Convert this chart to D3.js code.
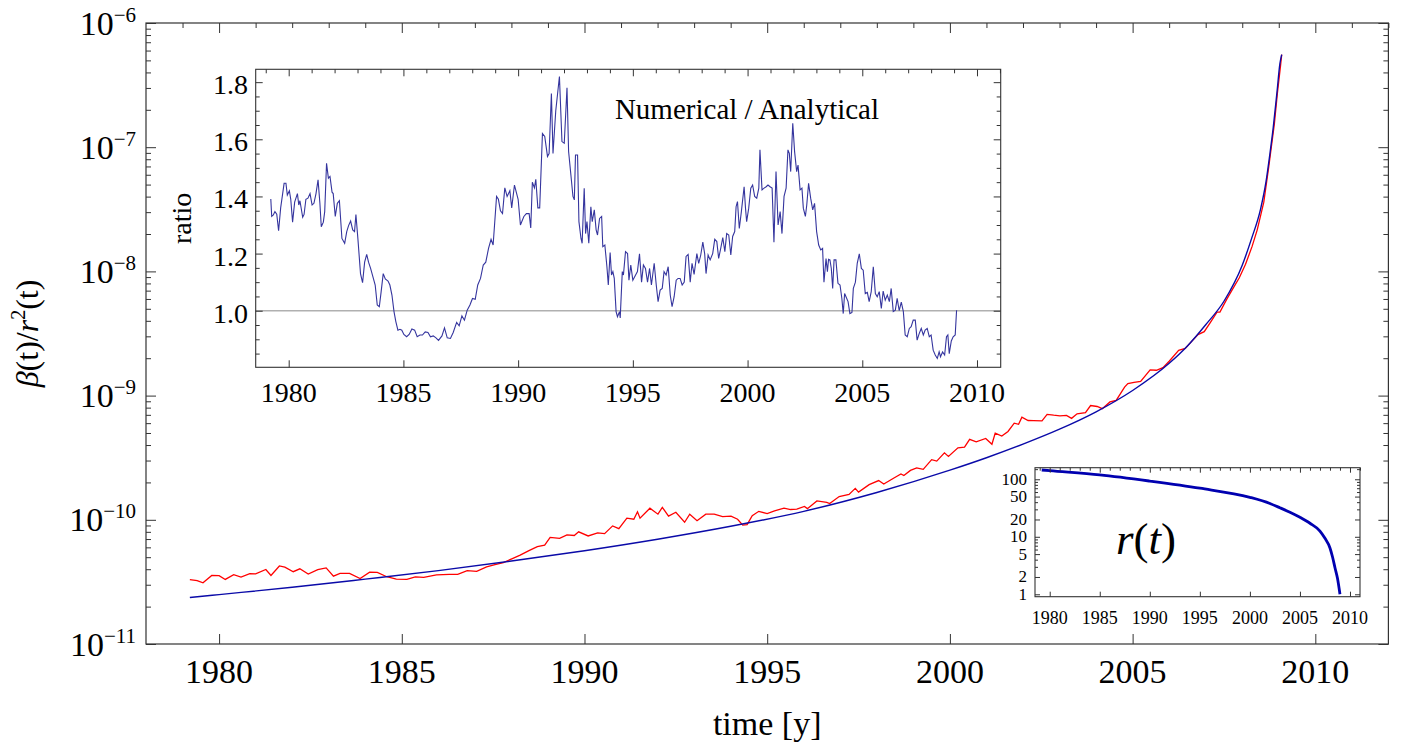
<!DOCTYPE html>
<html>
<head>
<meta charset="utf-8">
<script src="https://cdn.jsdelivr.net/npm/d3@7"></script>
<style>
body { margin: 0; background: #fff; }
text { font-family: "Liberation Serif", "Times New Roman", serif; fill: #000; }
</style>
</head>
<body>
<div id="chart-area"></div>
<script>
// Analytical curve beta(t)/r^2(t) (blue)
var analyticYears = [1979.2, 1980, 1982, 1984, 1986, 1988, 1990, 1992, 1994, 1996, 1998, 2000, 2001, 2002, 2003, 2004,
    2005, 2006, 2006.5, 2007, 2007.5, 2008, 2008.25, 2008.5, 2008.65, 2008.75, 2008.85, 2008.95, 2009.03, 2009.08];
var analyticValues = [2.37e-11, 2.50e-11, 2.86e-11, 3.33e-11, 3.90e-11, 4.66e-11, 5.64e-11, 6.98e-11, 8.87e-11, 1.17e-10,
    1.66e-10, 2.51e-10, 3.16e-10, 4.07e-10, 5.37e-10, 7.41e-10, 1.10e-9, 1.82e-9, 2.51e-9, 3.72e-9, 5.75e-9, 1.12e-8,
    1.82e-8, 3.16e-8, 5.25e-8, 8.51e-8, 1.45e-7, 2.75e-7, 4.68e-7, 5.56e-7];

// Numerical curve (red)
var numericYears = [1979.2, 1979.4, 1979.56, 1979.8, 1980.0, 1980.17, 1980.4, 1980.6, 1980.84, 1981.0, 1981.28, 1981.42,
    1981.65, 1981.8, 1982.03, 1982.21, 1982.44, 1982.7, 1982.93, 1983.13, 1983.31, 1983.57, 1983.86, 1984.12, 1984.33,
    1984.59, 1984.85, 1985.14, 1985.37, 1985.6, 1985.95, 1986.3, 1986.53, 1986.79, 1987.05, 1987.32, 1987.55, 1987.78,
    1988.01, 1988.24, 1988.48, 1988.71, 1988.91, 1989.06, 1989.32, 1989.52, 1989.72, 1989.84, 1990.1, 1990.36, 1990.55,
    1990.77, 1990.94, 1991.16, 1991.35, 1991.45, 1991.52, 1991.79, 1992.01, 1992.13, 1992.3, 1992.5, 1992.74, 1992.88,
    1993.08, 1993.32, 1993.55, 1993.78, 1994.01, 1994.19, 1994.33, 1994.45, 1994.59, 1994.77, 1995.0, 1995.2, 1995.46,
    1995.64, 1995.81, 1996.02, 1996.1, 1996.36, 1996.63, 1996.71, 1996.97, 1997.24, 1997.41, 1997.5, 1997.79, 1998.05,
    1998.19, 1998.48, 1998.66, 1998.74, 1998.92, 1999.09, 1999.27, 1999.5, 1999.64, 1999.85, 1999.96, 2000.22, 2000.4,
    2000.54, 2000.72, 2000.98, 2001.15, 2001.24, 2001.42, 2001.59, 2001.76, 2001.88, 2001.97, 2002.14, 2002.29, 2002.52,
    2002.66, 2002.84, 2003.01, 2003.19, 2003.33, 2003.48, 2003.71, 2003.85, 2004.03, 2004.17, 2004.38, 2004.55, 2004.78,
    2004.87, 2005.04, 2005.22, 2005.48, 2005.65, 2005.83, 2006.0, 2006.26, 2006.44, 2006.61, 2006.79, 2006.96, 2007.13,
    2007.31, 2007.39, 2007.57, 2007.74, 2007.92, 2008.09, 2008.27, 2008.41, 2008.59, 2008.73, 2008.88, 2008.96, 2009.05,
    2009.08];
var numericValues = [3.30e-11, 3.24e-11, 3.11e-11, 3.56e-11, 3.55e-11, 3.31e-11, 3.62e-11, 3.46e-11, 3.69e-11, 3.67e-11,
    3.98e-11, 3.56e-11, 4.25e-11, 4.15e-11, 3.82e-11, 4.03e-11, 3.66e-11, 3.97e-11, 4.10e-11, 3.52e-11, 3.70e-11, 3.70e-11,
    3.37e-11, 3.79e-11, 3.77e-11, 3.48e-11, 3.33e-11, 3.31e-11, 3.47e-11, 3.44e-11, 3.60e-11, 3.64e-11, 3.64e-11, 3.90e-11,
    3.84e-11, 4.17e-11, 4.36e-11, 4.53e-11, 4.85e-11, 5.19e-11, 5.65e-11, 6.07e-11, 6.25e-11, 7.21e-11, 7.08e-11, 7.55e-11,
    7.48e-11, 8.00e-11, 7.41e-11, 7.85e-11, 7.73e-11, 8.93e-11, 8.49e-11, 1.03e-10, 1.01e-10, 1.16e-10, 1.03e-10, 1.24e-10,
    1.11e-10, 1.26e-10, 1.07e-10, 1.15e-10, 9.55e-11, 1.11e-10, 9.82e-11, 1.11e-10, 1.11e-10, 1.06e-10, 1.07e-10, 1.01e-10,
    9.06e-11, 9.16e-11, 1.08e-10, 1.17e-10, 1.12e-10, 1.18e-10, 1.24e-10, 1.21e-10, 1.22e-10, 1.28e-10, 1.23e-10, 1.42e-10,
    1.38e-10, 1.35e-10, 1.54e-10, 1.60e-10, 1.79e-10, 1.67e-10, 1.92e-10, 2.07e-10, 1.94e-10, 2.18e-10, 2.34e-10, 2.27e-10,
    2.50e-10, 2.62e-10, 2.55e-10, 3.05e-10, 2.97e-10, 3.46e-10, 3.24e-10, 3.80e-10, 3.84e-10, 4.45e-10, 4.24e-10, 4.52e-10,
    4.06e-10, 4.99e-10, 4.73e-10, 5.14e-10, 6.00e-10, 5.87e-10, 6.70e-10, 6.30e-10, 6.28e-10, 6.25e-10, 7.06e-10, 6.95e-10,
    6.87e-10, 6.92e-10, 6.56e-10, 7.13e-10, 7.28e-10, 8.32e-10, 8.17e-10, 7.85e-10, 8.89e-10, 9.14e-10, 1.17e-9, 1.25e-9,
    1.28e-9, 1.30e-9, 1.61e-9, 1.60e-9, 1.68e-9, 1.89e-9, 2.31e-9, 2.40e-9, 2.72e-9, 3.10e-9, 3.27e-9, 3.89e-9, 4.70e-9,
    4.71e-9, 5.92e-9, 7.23e-9, 8.89e-9, 1.14e-8, 1.59e-8, 2.16e-8, 3.61e-8, 7.10e-8, 1.55e-7, 2.69e-7, 4.58e-7, 5.56e-7];

// Ratio numerical / analytical (inset)
var ratioYears = [1979.22, 1979.26, 1979.33, 1979.40, 1979.48, 1979.56, 1979.65, 1979.80, 1979.88, 1979.94, 1980.03,
    1980.09, 1980.17, 1980.26, 1980.38, 1980.44, 1980.49, 1980.61, 1980.67, 1980.75, 1980.84, 1980.93, 1981.02, 1981.10,
    1981.19, 1981.28, 1981.36, 1981.42, 1981.51, 1981.57, 1981.65, 1981.73, 1981.80, 1981.89, 1981.94, 1982.03, 1982.12,
    1982.21, 1982.32, 1982.44, 1982.53, 1982.61, 1982.70, 1982.79, 1982.87, 1982.93, 1983.02, 1983.13, 1983.22, 1983.31,
    1983.40, 1983.48, 1983.57, 1983.69, 1983.77, 1983.86, 1983.95, 1984.03, 1984.12, 1984.21, 1984.33, 1984.41, 1984.50,
    1984.59, 1984.67, 1984.76, 1984.85, 1984.93, 1985.02, 1985.14, 1985.25, 1985.37, 1985.49, 1985.60, 1985.72, 1985.83,
    1985.95, 1986.07, 1986.18, 1986.30, 1986.42, 1986.53, 1986.68, 1986.79, 1986.91, 1987.05, 1987.17, 1987.32, 1987.43,
    1987.55, 1987.66, 1987.78, 1987.90, 1988.01, 1988.13, 1988.24, 1988.36, 1988.48, 1988.59, 1988.71, 1988.82, 1988.91,
    1989.06, 1989.14, 1989.23, 1989.32, 1989.42, 1989.52, 1989.64, 1989.72, 1989.84, 1990.00, 1990.10, 1990.25, 1990.36,
    1990.48, 1990.55, 1990.62, 1990.71, 1990.77, 1990.86, 1990.94, 1991.06, 1991.16, 1991.28, 1991.35, 1991.45, 1991.52,
    1991.64, 1991.80, 1991.91, 1992.01, 1992.13, 1992.20, 1992.30, 1992.39, 1992.45, 1992.50, 1992.59, 1992.65, 1992.74,
    1992.79, 1992.88, 1992.94, 1993.00, 1993.08, 1993.17, 1993.23, 1993.32, 1993.40, 1993.46, 1993.55, 1993.64, 1993.69,
    1993.78, 1993.87, 1993.93, 1994.01, 1994.07, 1994.13, 1994.19, 1994.27, 1994.33, 1994.42, 1994.45, 1994.54, 1994.59,
    1994.68, 1994.77, 1994.83, 1994.91, 1995.00, 1995.12, 1995.20, 1995.29, 1995.38, 1995.46, 1995.55, 1995.64, 1995.73,
    1995.81, 1995.93, 1996.02, 1996.10, 1996.19, 1996.28, 1996.36, 1996.45, 1996.54, 1996.63, 1996.71, 1996.80, 1996.89,
    1996.97, 1997.06, 1997.15, 1997.24, 1997.32, 1997.41, 1997.50, 1997.58, 1997.67, 1997.79, 1997.87, 1997.96, 1998.05,
    1998.13, 1998.19, 1998.28, 1998.37, 1998.48, 1998.57, 1998.66, 1998.74, 1998.83, 1998.92, 1999.01, 1999.09, 1999.18,
    1999.27, 1999.35, 1999.44, 1999.50, 1999.56, 1999.64, 1999.73, 1999.85, 1999.91, 1999.96, 2000.05, 2000.14, 2000.22,
    2000.31, 2000.40, 2000.49, 2000.54, 2000.63, 2000.72, 2000.81, 2000.89, 2000.98, 2001.07, 2001.15, 2001.24, 2001.33,
    2001.42, 2001.50, 2001.59, 2001.68, 2001.76, 2001.82, 2001.88, 2001.97, 2002.05, 2002.14, 2002.20, 2002.29, 2002.37,
    2002.43, 2002.52, 2002.58, 2002.66, 2002.75, 2002.84, 2002.92, 2003.01, 2003.10, 2003.19, 2003.27, 2003.33, 2003.42,
    2003.48, 2003.53, 2003.59, 2003.65, 2003.71, 2003.77, 2003.85, 2003.94, 2004.03, 2004.11, 2004.17, 2004.23, 2004.29,
    2004.38, 2004.46, 2004.55, 2004.61, 2004.70, 2004.78, 2004.87, 2004.96, 2005.04, 2005.13, 2005.22, 2005.30, 2005.39,
    2005.48, 2005.57, 2005.65, 2005.74, 2005.83, 2005.91, 2006.00, 2006.09, 2006.18, 2006.26, 2006.35, 2006.44, 2006.52,
    2006.61, 2006.70, 2006.79, 2006.87, 2006.96, 2007.05, 2007.13, 2007.22, 2007.31, 2007.39, 2007.48, 2007.57, 2007.66,
    2007.74, 2007.83, 2007.92, 2008.00, 2008.09, 2008.18, 2008.27, 2008.35, 2008.41, 2008.50, 2008.59, 2008.67, 2008.73,
    2008.79, 2008.88, 2008.96, 2009.05, 2009.11];
var ratioValues = [1.391, 1.33, 1.335, 1.347, 1.338, 1.28, 1.36, 1.446, 1.446, 1.405, 1.42, 1.39, 1.31, 1.38, 1.41, 1.37,
    1.385, 1.327, 1.337, 1.39, 1.394, 1.41, 1.37, 1.376, 1.41, 1.458, 1.376, 1.294, 1.31, 1.347, 1.516, 1.464, 1.47, 1.415,
    1.41, 1.33, 1.376, 1.385, 1.253, 1.236, 1.277, 1.298, 1.314, 1.283, 1.277, 1.337, 1.248, 1.13, 1.098, 1.17, 1.197, 1.17,
    1.148, 1.113, 1.09, 1.02, 1.014, 1.067, 1.13, 1.111, 1.104, 1.09, 1.055, 0.997, 0.962, 0.932, 0.935, 0.932, 0.917, 0.909,
    0.917, 0.936, 0.932, 0.909, 0.915, 0.915, 0.926, 0.924, 0.909, 0.912, 0.905, 0.896, 0.912, 0.94, 0.905, 0.903, 0.924,
    0.959, 0.947, 0.982, 0.967, 1.002, 1.02, 1.043, 1.04, 1.09, 1.113, 1.16, 1.17, 1.218, 1.25, 1.23, 1.40, 1.39, 1.35,
    1.34, 1.43, 1.40, 1.42, 1.36, 1.44, 1.39, 1.30, 1.33, 1.34, 1.34, 1.29, 1.45, 1.43, 1.46, 1.36, 1.36, 1.62, 1.61, 1.54,
    1.55, 1.76, 1.55, 1.70, 1.82, 1.592, 1.586, 1.78, 1.557, 1.475, 1.40, 1.388, 1.545, 1.545, 1.312, 1.253, 1.236, 1.429,
    1.27, 1.312, 1.236, 1.364, 1.312, 1.353, 1.283, 1.265, 1.323, 1.33, 1.224, 1.23, 1.154, 1.09, 1.204, 1.125, 1.137,
    1.113, 0.997, 0.979, 0.997, 0.975, 1.137, 1.125, 1.207, 1.20, 1.107, 1.16, 1.107, 1.125, 1.137, 1.199, 1.10, 1.16,
    1.148, 1.10, 1.148, 1.09, 1.166, 1.09, 1.032, 1.072, 1.078, 1.137, 1.125, 1.154, 1.055, 1.014, 1.049, 1.107, 1.113,
    1.113, 1.09, 1.10, 1.19, 1.197, 1.10, 1.166, 1.127, 1.20, 1.166, 1.195, 1.24, 1.20, 1.13, 1.195, 1.178, 1.20, 1.25,
    1.242, 1.183, 1.218, 1.256, 1.207, 1.27, 1.265, 1.195, 1.26, 1.277, 1.364, 1.382, 1.288, 1.347, 1.434, 1.359, 1.312,
    1.359, 1.429, 1.44, 1.40, 1.394, 1.429, 1.563, 1.423, 1.429, 1.434, 1.44, 1.434, 1.429, 1.24, 1.487, 1.30, 1.347, 1.27,
    1.40, 1.429, 1.563, 1.551, 1.487, 1.656, 1.557, 1.487, 1.51, 1.423, 1.429, 1.359, 1.33, 1.37, 1.446, 1.394, 1.353,
    1.376, 1.277, 1.23, 1.213, 1.218, 1.10, 1.183, 1.137, 1.18, 1.178, 1.148, 1.078, 1.178, 1.178, 1.096, 1.09, 1.043,
    0.99, 1.06, 1.049, 1.032, 0.99, 0.994, 1.078, 1.10, 1.166, 1.199, 1.148, 1.142, 1.06, 1.064, 1.032, 1.067, 1.154, 1.06,
    1.049, 1.067, 1.008, 1.069, 1.037, 1.055, 1.032, 1.078, 0.997, 1.002, 1.043, 1.00, 1.03, 0.997, 0.915, 0.909, 0.938,
    0.944, 0.967, 0.967, 0.897, 0.92, 0.938, 0.915, 0.932, 0.938, 0.909, 0.915, 0.862, 0.845, 0.833, 0.856, 0.839, 0.856,
    0.845, 0.909, 0.915, 0.85, 0.894, 0.909, 0.915, 1.002];

// r(t) (small inset)
var rYears = [1979.2, 1980, 1985, 1990, 1995, 2000, 2002, 2003, 2004, 2005, 2006, 2007, 2007.5, 2008, 2008.25, 2008.5, 2008.75, 2009.0];
var rValues = [145, 141, 119, 93, 70, 48.6, 38, 32, 26.7, 21.8, 17.2, 12.6, 9.4, 6.4, 4.5, 2.9, 1.9, 1.0];

// Tick labels
var yearTicks = [1980, 1985, 1990, 1995, 2000, 2005, 2010];
var decadeTicks = [1e-11, 1e-10, 1e-9, 1e-8, 1e-7, 1e-6];
var decadeExponents = ["\u221211", "\u221210", "\u22129", "\u22128", "\u22127", "\u22126"];
var ratioTicks = [1.0, 1.2, 1.4, 1.6, 1.8];
var rTicks = [1, 2, 5, 10, 20, 50, 100];

var svg = d3.select("#chart-area").append("svg")
    .attr("width", 1404)
    .attr("height", 747);

var frameColor = "#333";

// draw frame ticks pointing inward with d3 axes
function frameAxis(g, axisFn, scale, vals, len, tx, ty) {
    var a = g.append("g")
        .attr("transform", "translate(" + tx + "," + ty + ")")
        .call(axisFn(scale).tickValues(vals).tickSizeInner(-len).tickSizeOuter(0).tickFormat(""));
    a.select(".domain").remove();
    a.selectAll("line").attr("stroke", frameColor).attr("stroke-width", 1);
}

function logMinor(lo, hi) {
    var out = [];
    for (var e = lo; e < hi; e++) {
        for (var m = 2; m <= 9; m++) out.push(m * Math.pow(10, e));
    }
    return out;
}

function yearRange(a, b, step) {
    var out = [];
    for (var t = a; t <= b; t += step) out.push(t);
    return out;
}

// ---------------- main plot ----------------
var mb = { left: 146, right: 1388.4, top: 23, bottom: 644 };
var x = d3.scaleLinear().domain([1978, 2012]).range([mb.left, mb.right]);
var y = d3.scaleLog().domain([1e-11, 1e-6]).range([mb.bottom, mb.top]);

var mainG = svg.append("g");

// curves
var redData = numericYears.map(function(t, i) { return [t, numericValues[i]]; });
var blueData = analyticYears.map(function(t, i) { return [t, analyticValues[i]]; });

mainG.append("path")
    .datum(redData)
    .attr("fill", "none")
    .attr("stroke", "#ff0000")
    .attr("stroke-width", 1.3)
    .attr("d", d3.line().x(function(d) { return x(d[0]); }).y(function(d) { return y(d[1]); }));

mainG.append("path")
    .datum(blueData)
    .attr("fill", "none")
    .attr("stroke", "#0a0aa8")
    .attr("stroke-width", 1.4)
    .attr("d", d3.line().curve(d3.curveMonotoneX).x(function(d) { return x(d[0]); }).y(function(d) { return y(d[1]); }));

// frame
mainG.append("rect")
    .attr("x", mb.left).attr("y", mb.top)
    .attr("width", mb.right - mb.left).attr("height", mb.bottom - mb.top)
    .attr("fill", "none").attr("stroke", frameColor).attr("stroke-width", 1.2);

var yearMinor = yearRange(1979, 2012, 1).filter(function(d) { return d % 5 !== 0; });
frameAxis(mainG, d3.axisBottom, x, yearTicks, 10, 0, mb.bottom);
frameAxis(mainG, d3.axisTop, x, yearTicks, 10, 0, mb.top);
frameAxis(mainG, d3.axisTop, x, yearMinor, 5, 0, mb.top);
frameAxis(mainG, d3.axisLeft, y, decadeTicks, 10, mb.left, 0);
frameAxis(mainG, d3.axisLeft, y, logMinor(-11, -6), 5, mb.left, 0);
frameAxis(mainG, d3.axisRight, y, decadeTicks, 10, mb.right, 0);
frameAxis(mainG, d3.axisRight, y, logMinor(-11, -6), 5, mb.right, 0);

// x tick labels
mainG.selectAll(".xlab").data(yearTicks).enter()
    .append("text")
    .attr("class", "xlab")
    .attr("x", function(d) { return x(d); })
    .attr("y", 683)
    .attr("text-anchor", "middle")
    .style("font-size", "34px")
    .text(function(d) { return d; });

// y tick labels 10^n
var ylab = mainG.selectAll(".ylab").data(decadeTicks).enter()
    .append("text")
    .attr("class", "ylab")
    .attr("x", 136)
    .attr("y", function(d) { return y(d) + 11.5; })
    .attr("text-anchor", "end")
    .style("font-size", "34px");
ylab.append("tspan").text("10");
ylab.append("tspan")
    .attr("dy", -13)
    .style("font-size", "21px")
    .text(function(d, i) { return decadeExponents[i]; });

// axis titles
mainG.append("text")
    .attr("x", (mb.left + mb.right) / 2)
    .attr("y", 735)
    .attr("text-anchor", "middle")
    .style("font-size", "34px")
    .text("time [y]");

var yt = mainG.append("text")
    .attr("transform", "translate(38," + ((mb.top + mb.bottom) / 2) + ") rotate(-90)")
    .attr("text-anchor", "middle")
    .style("font-size", "32px");
yt.append("tspan").style("font-style", "italic").text("\u03b2");
yt.append("tspan").text("(t)/");
yt.append("tspan").style("font-style", "italic").text("r");
yt.append("tspan").attr("dy", -13).style("font-size", "20px").text("2");
yt.append("tspan").attr("dy", 13).text("(t)");

// ---------------- ratio inset ----------------
var ib = { left: 255.7, right: 1000.7, top: 69.3, bottom: 367.3 };
var ix = d3.scaleLinear().domain([1978.562, 2011.033]).range([ib.left, ib.right]);
var iy = d3.scaleLinear().domain([0.802, 1.845]).range([ib.bottom, ib.top]);

var insG = svg.append("g");
insG.append("rect")
    .attr("x", ib.left).attr("y", ib.top)
    .attr("width", ib.right - ib.left).attr("height", ib.bottom - ib.top)
    .attr("fill", "#fff");

insG.append("line")
    .attr("x1", ib.left).attr("x2", ib.right)
    .attr("y1", iy(1)).attr("y2", iy(1))
    .attr("stroke", "#b0b0b0").attr("stroke-width", 1.6);

var ratioData = ratioYears.map(function(t, i) { return [t, ratioValues[i]]; });
insG.append("path")
    .datum(ratioData)
    .attr("fill", "none")
    .attr("stroke", "#35359e")
    .attr("stroke-width", 1.1)
    .attr("d", d3.line().x(function(d) { return ix(d[0]); }).y(function(d) { return iy(d[1]); }));

insG.append("rect")
    .attr("x", ib.left).attr("y", ib.top)
    .attr("width", ib.right - ib.left).attr("height", ib.bottom - ib.top)
    .attr("fill", "none").attr("stroke", frameColor).attr("stroke-width", 1.1);

var ratioMinor = d3.range(17, 37).map(function(k) { return k * 0.05; }).filter(function(v) {
    return v > 0.802 && v < 1.845 && Math.abs(v * 5 - Math.round(v * 5)) > 1e-6;
});
var insYearMinor = yearRange(1979, 2011, 1).filter(function(d) { return d % 5 !== 0; });
frameAxis(insG, d3.axisBottom, ix, yearTicks, 7, 0, ib.bottom);
frameAxis(insG, d3.axisTop, ix, yearTicks, 7, 0, ib.top);
frameAxis(insG, d3.axisTop, ix, insYearMinor, 4, 0, ib.top);
frameAxis(insG, d3.axisLeft, iy, ratioTicks, 7, ib.left, 0);
frameAxis(insG, d3.axisLeft, iy, ratioMinor, 4, ib.left, 0);
frameAxis(insG, d3.axisRight, iy, ratioTicks, 7, ib.right, 0);
frameAxis(insG, d3.axisRight, iy, ratioMinor, 4, ib.right, 0);

insG.selectAll(".ixlab").data(yearTicks).enter()
    .append("text")
    .attr("class", "ixlab")
    .attr("x", function(d) { return ix(d); })
    .attr("y", 402)
    .attr("text-anchor", "middle")
    .style("font-size", "28px")
    .text(function(d) { return d; });

insG.selectAll(".iylab").data(ratioTicks).enter()
    .append("text")
    .attr("class", "iylab")
    .attr("x", 248)
    .attr("y", function(d) { return iy(d) + 12; })
    .attr("text-anchor", "end")
    .style("font-size", "28px")
    .text(function(d) { return d.toFixed(1); });

insG.append("text")
    .attr("transform", "translate(191," + ((ib.top + ib.bottom) / 2) + ") rotate(-90)")
    .attr("text-anchor", "middle")
    .style("font-size", "28px")
    .text("ratio");

insG.append("text")
    .attr("x", 747)
    .attr("y", 119)
    .attr("text-anchor", "middle")
    .style("font-size", "29px")
    .text("Numerical / Analytical");

// ---------------- r(t) inset ----------------
var rb = { left: 1035, right: 1360, top: 467.7, bottom: 596.7 };
var rx = d3.scaleLinear().domain([1978.53, 2011.0]).range([rb.left, rb.right]);
var ry = d3.scaleLog().domain([0.908, 159]).range([rb.bottom, rb.top]);

var rG = svg.append("g");
rG.append("rect")
    .attr("x", rb.left).attr("y", rb.top)
    .attr("width", rb.right - rb.left).attr("height", rb.bottom - rb.top)
    .attr("fill", "#fff");

var rData = rYears.map(function(t, i) { return [t, rValues[i]]; });
rG.append("path")
    .datum(rData)
    .attr("fill", "none")
    .attr("stroke", "#0000b0")
    .attr("stroke-width", 2.8)
    .attr("d", d3.line().curve(d3.curveMonotoneX).x(function(d) { return rx(d[0]); }).y(function(d) { return ry(d[1]); }));

rG.append("rect")
    .attr("x", rb.left).attr("y", rb.top)
    .attr("width", rb.right - rb.left).attr("height", rb.bottom - rb.top)
    .attr("fill", "none").attr("stroke", frameColor).attr("stroke-width", 1.1);

var rMinor = [3, 4, 6, 7, 8, 9, 30, 40, 60, 70, 80, 90, 150];
frameAxis(rG, d3.axisBottom, rx, yearTicks, 5, 0, rb.bottom);
frameAxis(rG, d3.axisTop, rx, yearTicks, 5, 0, rb.top);
frameAxis(rG, d3.axisTop, rx, insYearMinor, 3, 0, rb.top);
frameAxis(rG, d3.axisLeft, ry, rTicks, 5, rb.left, 0);
frameAxis(rG, d3.axisLeft, ry, rMinor, 3, rb.left, 0);
frameAxis(rG, d3.axisRight, ry, rTicks, 5, rb.right, 0);
frameAxis(rG, d3.axisRight, ry, rMinor, 3, rb.right, 0);

rG.selectAll(".rxlab").data(yearTicks).enter()
    .append("text")
    .attr("class", "rxlab")
    .attr("x", function(d) { return rx(d); })
    .attr("y", 623.5)
    .attr("text-anchor", "middle")
    .style("font-size", "18px")
    .text(function(d) { return d; });

rG.selectAll(".rylab").data(rTicks).enter()
    .append("text")
    .attr("class", "rylab")
    .attr("x", 1027)
    .attr("y", function(d) { return ry(d) + 5.5; })
    .attr("text-anchor", "end")
    .style("font-size", "17px")
    .text(function(d) { return d; });

var rt = rG.append("text")
    .attr("x", 1116)
    .attr("y", 554)
    .style("font-size", "45px");
rt.append("tspan").style("font-style", "italic").text("r");
rt.append("tspan").text("(");
rt.append("tspan").style("font-style", "italic").text("t");
rt.append("tspan").text(")");
</script>
</body>
</html>
